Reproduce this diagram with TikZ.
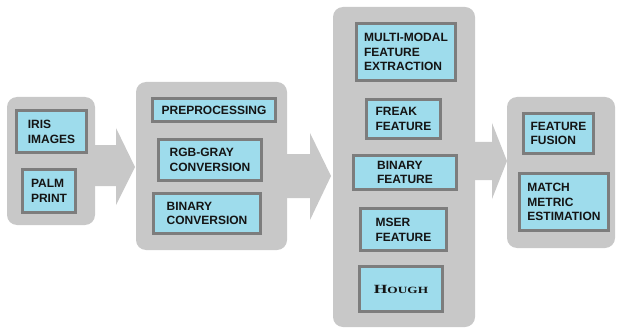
\documentclass[tikz,border=0pt]{standalone}
\usepackage{fontspec}
\setmainfont{Liberation Sans}
\newfontfamily\capsfont{Liberation Serif}
\usetikzlibrary{calc}

\definecolor{panelgray}{RGB}{200,200,200}
\definecolor{boxfill}{RGB}{158,220,236}
\definecolor{boxedge}{RGB}{125,125,125}
\definecolor{inktext}{RGB}{20,20,20}

\tikzset{
  panel/.style={fill=panelgray, draw=none, rounded corners=10pt},
  stage/.style={fill=boxfill, draw=boxedge, line width=3pt, inner sep=0pt,
    align=left, text=inktext,
    font=\fontsize{12}{14.8}\selectfont\bfseries},
  blockarrow/.style={fill=panelgray, draw=none}
}

% \stagebox{name}{x1}{y1}{x2}{y2}{text}: outer edges of the framed box
\newcommand{\stagebox}[6]{%
  \node[stage, minimum width={(#4-#2-3)*1pt}, minimum height={(#5-#3-3)*1pt}]
    (#1) at ({(#2+#4)/2},{(#3+#5)/2}) {#6};}

\begin{document}
\begin{tikzpicture}[x=1pt, y=-1pt]
\useasboundingbox (0,0) rectangle (617,331);

% grey stage panels
\fill[panel] (7,97) rectangle (95,225);
\fill[panel] (136,82) rectangle (287,250);
\fill[panel] (333,7) rectangle (475,327);
\fill[panel] (507,97) rectangle (615,248);

% block arrows between the panels
\fill[blockarrow] (90,145) -- (116,145) -- (116,128) -- (135,167)
  -- (116,205) -- (116,186) -- (90,186) -- cycle;
\fill[blockarrow] (285,154) -- (310,154) -- (310,133) -- (331,176)
  -- (310,220) -- (310,198) -- (285,198) -- cycle;
\fill[blockarrow] (473,142) -- (492,142) -- (492,123) -- (507,161)
  -- (492,199) -- (492,180) -- (473,180) -- cycle;

% inputs
\stagebox{iris}{15}{109}{88}{154}{IRIS\\IMAGES}
\stagebox{palm}{21}{168}{77}{214}{PALM\\PRINT}

% preprocessing
\stagebox{prep}{151}{97}{277}{123}{PREPROCESSING}
\stagebox{rgb}{157}{138}{263}{182}{RGB-GRAY\\CONVERSION}
\stagebox{binc}{152}{192}{262}{235}{BINARY\\CONVERSION}

% feature extraction
\stagebox{multi}{355}{22}{457}{82}{MULTI-MODAL\\FEATURE\\EXTRACTION}
\stagebox{freak}{365}{98}{442}{140}{FREAK\\FEATURE}
\stagebox{binf}{352}{154}{458}{191}{BINARY\\FEATURE}
\stagebox{mser}{359}{207}{448}{252}{MSER\\FEATURE}
\stagebox{hough}{358}{265}{444}{313}{\scalebox{1.4}[1]{\capsfont\bfseries
  {\fontsize{12.5}{12}\selectfont H}{\fontsize{9.5}{12}\selectfont OUGH}}}

% fusion and matching
\stagebox{fusion}{522}{112}{595}{155}{FEATURE\\FUSION}
\stagebox{match}{518}{172}{610}{232}{MATCH\\METRIC\\ESTIMATION}
\end{tikzpicture}
\end{document}
